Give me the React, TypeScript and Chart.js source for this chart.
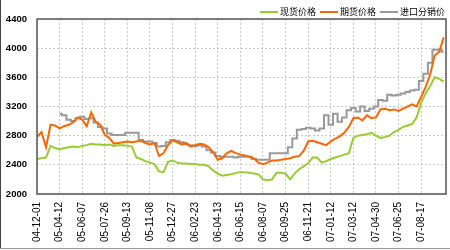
import React, { useEffect, useRef } from 'react';
import { Chart, registerables } from 'chart.js';

Chart.register(...registerables);

// x-axis tick labels (one every ~35 trading days)
const tickLabels = [
  '04-12-01', '05-04-12', '05-06-07', '05-07-26', '05-09-13', '05-11-08',
  '05-12-27', '06-02-23', '06-04-13', '06-06-15', '06-08-07', '06-09-25',
  '06-11-21', '07-01-12', '07-03-12', '07-04-30', '07-06-25', '07-08-17',
];

// samples per tick-label interval
const POINTS_PER_TICK = 5;

const seriesNames = ['现货价格', '期货价格', '进口分销价'];

// 现货价格
const spotPrice = [
  2480, 2490, 2500, 2660, 2630, 2610, 2630, 2640, 2650, 2640,
  2660, 2670, 2690, 2680, 2680, 2670, 2680, 2660, 2670, 2670,
  2660, 2650, 2500, 2480, 2450, 2430, 2410, 2310, 2300, 2440,
  2460, 2430, 2420, 2420, 2410, 2410, 2400, 2400, 2380, 2320,
  2280, 2250, 2260, 2270, 2290, 2300, 2300, 2290, 2280, 2270,
  2200, 2190, 2200, 2290, 2290, 2280, 2200, 2280, 2340, 2380,
  2420, 2500, 2500, 2430, 2450, 2480, 2500, 2520, 2540, 2560,
  2770, 2800, 2810, 2820, 2840, 2800, 2770, 2780, 2800, 2850,
  2880, 2920, 2940, 2960, 3050, 3250, 3380, 3480, 3600, 3580,
  3540,
];

// 期货价格
const futuresPrice = [
  2780, 2850, 2640, 2950, 2940, 2900, 2930, 2950, 2980, 3050,
  3020, 2930, 3120, 2990, 2950, 2810, 2770, 2690, 2700, 2710,
  2720, 2710, 2720, 2730, 2700, 2680, 2700, 2520, 2560, 2670,
  2740, 2710, 2680, 2700, 2650, 2670, 2690, 2680, 2640, 2570,
  2470, 2490, 2560, 2590, 2560, 2540, 2530, 2510, 2490, 2430,
  2410, 2430, 2460, 2460, 2470, 2480, 2490, 2510, 2520, 2590,
  2720, 2730, 2710, 2690, 2670, 2720, 2760, 2790, 2840, 2920,
  3040, 3050, 3010, 3080, 3040, 3050, 3160, 3170, 3150, 3160,
  3140, 3170, 3200, 3230, 3200, 3330, 3470, 3640, 3900, 3950,
  4150,
];

// 进口分销价
const importPrice = [
  null, null, null, null, null, 3100, 3080, 3020, 3000, 3040,
  3060, 3030, 3040, 2980, 2920, 2900, 2830, 2810, 2810, 2810,
  2840, 2840, 2840, 2740, 2720, 2720, 2700, 2650, 2660, 2710,
  2740, 2730, 2710, 2680, 2670, 2660, 2670, 2650, 2600, 2570,
  2520, 2510, 2510, 2510, 2500, 2510, 2510, 2510, 2480, 2470,
  2470, 2470, 2560, 2560, 2560, 2560, 2640, 2760, 2880, 2890,
  2910, 2900, 2870, 2900, 3080, 2950, 3100, 2990, 3050, 3150,
  3180, 3130, 3200, 3140, 3170, 3200, 3290, 3280, 3360, 3350,
  3360, 3380, 3400, 3420, 3430, 3550, 3650, 3800, 3980, 3980,
  3950,
];

const yTicks = [2000, 2400, 2800, 3200, 3600, 4000, 4400];

const toPoints = (arr: (number | null)[]) =>
  arr.map((v, i) => ({ x: i / POINTS_PER_TICK, y: v }));

const decorPlugin = {
  id: 'decor',
  afterDraw(chart: any) {
    const { ctx, chartArea } = chart;
    ctx.save();
    // plot frame
    ctx.strokeStyle = '#555555';
    ctx.lineWidth = 1.5;
    ctx.strokeRect(chartArea.left, chartArea.top, chartArea.right - chartArea.left, chartArea.bottom - chartArea.top);
    // image border (left + bottom)
    ctx.lineWidth = 1;
    ctx.strokeStyle = '#444444';
    ctx.beginPath();
    ctx.moveTo(0.5, 0);
    ctx.lineTo(0.5, 249);
    ctx.stroke();
    ctx.strokeStyle = '#999999';
    ctx.beginPath();
    ctx.moveTo(0, 248.5);
    ctx.lineTo(450, 248.5);
    ctx.stroke();
    // legend (top right)
    ctx.font = '9px "Noto Sans CJK SC", sans-serif';
    ctx.textBaseline = 'middle';
    ctx.textAlign = 'left';
    const y = 12;
    const lineLen = 18;
    const gap = 2;
    const itemGap = 4;
    let right = chartArea.right - 1;
    const ds = chart.data.datasets;
    for (let i = ds.length - 1; i >= 0; i--) {
      const text = ds[i].label as string;
      const w = ctx.measureText(text).width;
      const tx = right - w;
      ctx.fillStyle = '#000000';
      ctx.fillText(text, tx, y);
      ctx.strokeStyle = ds[i].borderColor;
      ctx.lineWidth = 2;
      ctx.beginPath();
      ctx.moveTo(tx - gap - lineLen, y);
      ctx.lineTo(tx - gap, y);
      ctx.stroke();
      right = tx - gap - lineLen - itemGap;
    }
    ctx.restore();
  },
};

export default function App() {
  const ref = useRef<HTMLCanvasElement | null>(null);

  useEffect(() => {
    if (!ref.current) return;
    const chart = new Chart(ref.current, {
      type: 'line',
      data: {
        datasets: [
          {
            label: seriesNames[0],
            data: toPoints(spotPrice),
            borderColor: '#99cc33',
            backgroundColor: '#99cc33',
            borderWidth: 2,
            pointRadius: 0,
          },
          {
            label: seriesNames[1],
            data: toPoints(futuresPrice),
            borderColor: '#ff6600',
            backgroundColor: '#ff6600',
            borderWidth: 2,
            pointRadius: 0,
          },
          {
            label: seriesNames[2],
            data: toPoints(importPrice),
            borderColor: '#999999',
            backgroundColor: '#999999',
            borderWidth: 2,
            pointRadius: 0,
            stepped: 'middle',
          },
        ],
      },
      options: {
        animation: false,
        responsive: false,
        layout: { padding: { top: 19, right: 4, left: 0, bottom: 0 } },
        plugins: { legend: { display: false }, tooltip: { enabled: false } },
        scales: {
          x: {
            type: 'linear',
            min: 0,
            max: 18.1,
            afterBuildTicks: (s: any) => {
              s.ticks = tickLabels.map((_, i) => ({ value: i }));
            },
            afterFit: (s: any) => {
              s.height = 56;
            },
            ticks: {
              autoSkip: false,
              minRotation: 90,
              maxRotation: 90,
              padding: 8,
              color: '#000000',
              font: { family: '"Liberation Sans", Arial, sans-serif', size: 10 },
              callback: (_v: any, i: number) => tickLabels[i] ?? '',
            },
            grid: { color: '#c8c8c8', drawTicks: false, lineWidth: 1 },
            border: { display: false, dash: [2, 2] },
          },
          y: {
            min: yTicks[0],
            max: yTicks[yTicks.length - 1],
            afterBuildTicks: (s: any) => {
              s.ticks = yTicks.map((v) => ({ value: v }));
            },
            afterFit: (s: any) => {
              s.width = 37;
            },
            ticks: {
              padding: 10,
              color: '#000000',
              font: { family: '"Liberation Sans", Arial, sans-serif', size: 9.5, weight: 'bold' },
              callback: (v: any) => String(v),
            },
            grid: { color: '#c8c8c8', drawTicks: false, lineWidth: 1 },
            border: { display: false, dash: [2, 2] },
          },
        },
      },
      plugins: [decorPlugin],
    } as any);
    return () => chart.destroy();
  }, []);

  return (
    <div style={{ position: 'absolute', left: 0, top: 0, width: 450, height: 250, background: '#fff' }}>
      <canvas ref={ref} width={450} height={250} style={{ display: 'block' }} />
    </div>
  );
}
